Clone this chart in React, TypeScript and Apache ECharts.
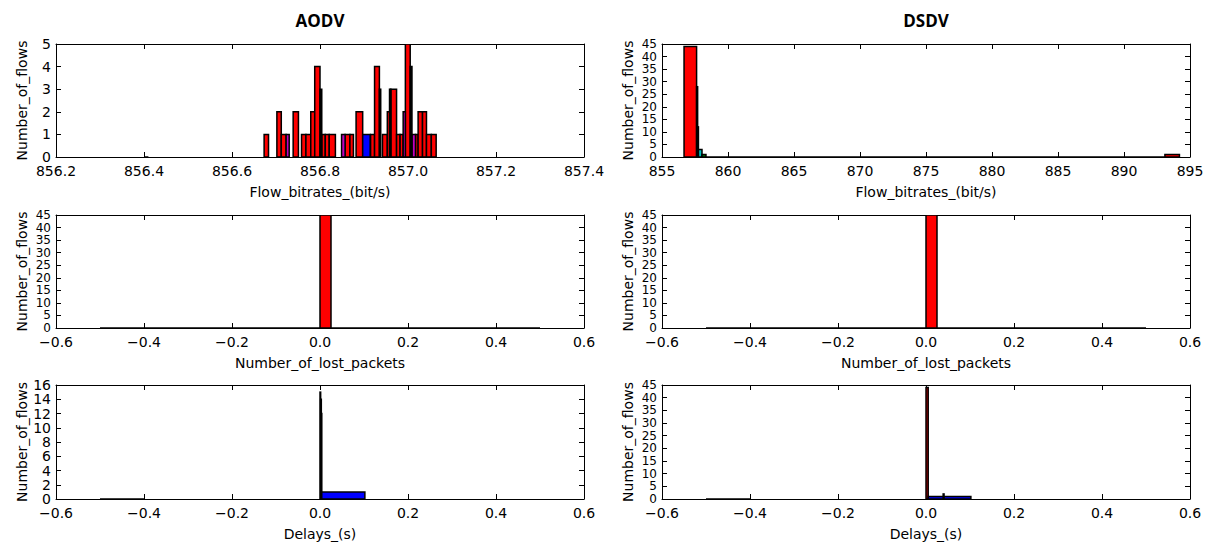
import React, { useEffect, useRef } from "react";
import * as echarts from "echarts";

type Bin = [number, number, number]; // [binStart, binEnd, count]

// ---- AODV: flow bitrates ----
const aodvRateRed: Bin[] = [
  [856.673, 856.683, 1], [856.702, 856.712, 2], [856.712, 856.723, 1],
  [856.739, 856.751, 2], [856.758, 856.768, 1], [856.768, 856.779, 1],
  [856.779, 856.788, 2], [856.788, 856.8, 4], [856.804, 856.812, 1],
  [856.812, 856.821, 1], [856.821, 856.835, 1], [856.857, 856.868, 1],
  [856.868, 856.876, 1], [856.882, 856.897, 2], [856.915, 856.924, 1],
  [856.924, 856.935, 4], [856.942, 856.953, 1], [856.953, 856.961, 2],
  [856.961, 856.974, 3], [856.974, 856.982, 1], [856.982, 856.989, 1],
  [856.994, 857.005, 5], [857.017, 857.023, 1], [857.023, 857.033, 2],
  [857.033, 857.042, 2], [857.042, 857.053, 1], [857.053, 857.064, 1],
];
const aodvRatePurple: Bin[] = [
  [856.723, 856.73, 1], [856.849, 856.857, 1], [856.989, 856.994, 2], [857.009, 857.017, 1],
];
const aodvRateBlue: Bin[] = [[856.897, 856.914, 1]];
const aodvRateBlack: Bin[] = [
  [856.8, 856.804, 3], [856.935, 856.938, 3], [856.958, 856.961, 3], [857.005, 857.009, 4],
  [856.4, 856.41, 0],
];

// ---- DSDV: flow bitrates ----
const dsdvRateRed: Bin[] = [[856.67, 857.62, 44], [893.1, 894.2, 1]];
const dsdvRateBlack: Bin[] = [[857.62, 857.7, 28], [857.7, 857.76, 12], [858.33, 893.1, 0]];
const dsdvRateCyan: Bin[] = [[857.76, 858.03, 3]];
const dsdvRateGreen: Bin[] = [[858.03, 858.33, 1]];

// ---- lost packets ----
const aodvLostRed: Bin[] = [[0, 0.025, 45]];
const aodvLostEmpty: Bin[] = [[-0.5, 0, 0], [0.025, 0.5, 0]];
const dsdvLostRed: Bin[] = [[0, 0.025, 45]];
const dsdvLostEmpty: Bin[] = [[-0.5, 0, 0], [0.025, 0.5, 0]];

// ---- delays ----
const aodvDelayBlack: Bin[] = [[0, 0.0015, 15], [0.0015, 0.003, 14], [0.003, 0.004, 12], [-0.5, -0.4, 0]];
const aodvDelayBlue: Bin[] = [[0.004, 0.102, 1]];
const dsdvDelayRed: Bin[] = [[0, 0.005, 44]];
const dsdvDelayBlue: Bin[] = [[0.005, 0.102, 1]];
const dsdvDelayBlack: Bin[] = [[0.039, 0.041, 2], [-0.5, -0.4, 0]];

// ---- labels and axis ranges (panel order: row by row, AODV then DSDV) ----
const titles = ["AODV", "DSDV"];
const xNames = [
  "Flow_bitrates_(bit/s)", "Flow_bitrates_(bit/s)",
  "Number_of_lost_packets", "Number_of_lost_packets",
  "Delays_(s)", "Delays_(s)",
];
const yName = "Number_of_flows";
const xMins = [856.2, 855, -0.6, -0.6, -0.6, -0.6];
const xMaxs = [857.4, 895, 0.6, 0.6, 0.6, 0.6];
const xSteps = [0.2, 5, 0.2, 0.2, 0.2, 0.2];
const xDecimals = [1, 0, 1, 1, 1, 1];
const yMaxs = [5, 45, 45, 45, 16, 45];
const ySteps = [1, 5, 5, 5, 2, 5];

const panelSeries: { data: Bin[]; color: string }[][] = [
  [
    { data: aodvRateRed, color: "#ff0000" },
    { data: aodvRatePurple, color: "#bf00bf" },
    { data: aodvRateBlue, color: "#0000ff" },
    { data: aodvRateBlack, color: "#000000" },
  ],
  [
    { data: dsdvRateRed, color: "#ff0000" },
    { data: dsdvRateBlack, color: "#000000" },
    { data: dsdvRateCyan, color: "#00bfbf" },
    { data: dsdvRateGreen, color: "#008000" },
  ],
  [
    { data: aodvLostRed, color: "#ff0000" },
    { data: aodvLostEmpty, color: "#000000" },
  ],
  [
    { data: dsdvLostRed, color: "#ff0000" },
    { data: dsdvLostEmpty, color: "#000000" },
  ],
  [
    { data: aodvDelayBlack, color: "#000000" },
    { data: aodvDelayBlue, color: "#0000ff" },
  ],
  [
    { data: dsdvDelayRed, color: "#cc0000" },
    { data: dsdvDelayBlue, color: "#0000ff" },
    { data: dsdvDelayBlack, color: "#000000" },
  ],
];

const FONT = "'DejaVu Sans', sans-serif";
const COL_LEFT = [56, 662];
const ROW_TOP = [44, 215, 385];
const ROW_H = [113, 113, 114];
const PLOT_W = 528;

function fmt(v: number, d: number) {
  const s = (Math.abs(v) < 1e-9 ? 0 : v).toFixed(d);
  return s.replace("-", "\u2212");
}

export default function App() {
  const ref = useRef<HTMLDivElement>(null);
  useEffect(() => {
    if (!ref.current) return;
    const chart = echarts.init(ref.current, undefined, { renderer: "svg" });
    const grids: any[] = [];
    const xAxes: any[] = [];
    const yAxes: any[] = [];
    const series: any[] = [];
    for (let i = 0; i < 6; i++) {
      const r = Math.floor(i / 2);
      const c = i % 2;
      grids.push({ left: COL_LEFT[c], top: ROW_TOP[r], width: PLOT_W, height: ROW_H[r] });
      const common = {
        gridIndex: i,
        type: "value",
        axisLine: { show: true, onZero: false, lineStyle: { color: "#000", width: 1 } },
        axisTick: { show: true, inside: true, length: 5, lineStyle: { color: "#000", width: 1 } },
        splitLine: { show: false },
      };
      const xr = { min: xMins[i], max: xMaxs[i], interval: xSteps[i] };
      const yr = { min: 0, max: yMaxs[i], interval: ySteps[i] };
      const dense = yMaxs[i] / ySteps[i] > 8;
      xAxes.push({
        ...common, ...xr, position: "bottom",
        name: xNames[i], nameLocation: "middle", nameGap: 28,
        nameTextStyle: { fontFamily: FONT, fontSize: 14, color: "#000" },
        axisLabel: {
          show: true, margin: 7, fontFamily: FONT, fontSize: 14, color: "#000",
          showMinLabel: true, showMaxLabel: true,
          formatter: (v: number) => fmt(v, xDecimals[i]),
        },
      });
      xAxes.push({ ...common, ...xr, position: "top", axisLabel: { show: false } });
      yAxes.push({
        ...common, ...yr, position: "left",
        name: yName, nameLocation: "middle", nameGap: 27,
        nameTextStyle: { fontFamily: FONT, fontSize: 14, color: "#000" },
        axisLabel: {
          show: true, margin: 5, fontFamily: FONT, fontSize: dense ? 12 : 14,
          lineHeight: dense ? 12 : 14, color: "#000",
          showMinLabel: true, showMaxLabel: true,
          formatter: (v: number) => fmt(v, 0),
        },
      });
      yAxes.push({ ...common, ...yr, position: "right", axisLabel: { show: false } });
      for (const s of panelSeries[i]) {
        const color = s.color;
        series.push({
          type: "custom",
          xAxisIndex: i * 2,
          yAxisIndex: i * 2,
          clip: true,
          data: s.data,
          encode: { x: [0, 1], y: 2 },
          renderItem: (_p: any, api: any) => {
            const x0 = api.value(0);
            const x1 = api.value(1);
            const h = api.value(2);
            const a = api.coord([x0, 0]);
            const b = api.coord([x1, h]);
            return {
              type: "rect",
              shape: { x: a[0], y: b[1], width: b[0] - a[0], height: a[1] - b[1] },
              style: { fill: color, stroke: "#000", lineWidth: 1.5 },
            };
          },
        });
      }
    }
    chart.setOption({
      animation: false,
      backgroundColor: "#fff",
      grid: grids,
      xAxis: xAxes,
      yAxis: yAxes,
      series,
      graphic: titles.map((t, c) => ({
        type: "text",
        x: COL_LEFT[c] + PLOT_W / 2,
        y: 20,
        style: {
          text: t,
          font: "bold 17px 'Open Sans', 'DejaVu Sans', sans-serif",
          fill: "#000",
          textAlign: "center",
          textVerticalAlign: "middle",
          align: "center",
          verticalAlign: "middle",
        },
      })),
    });
    return () => chart.dispose();
  }, []);
  return (
    <div
      ref={ref}
      style={{ position: "fixed", left: 0, top: 0, width: 1210, height: 547, background: "#fff" }}
    />
  );
}
